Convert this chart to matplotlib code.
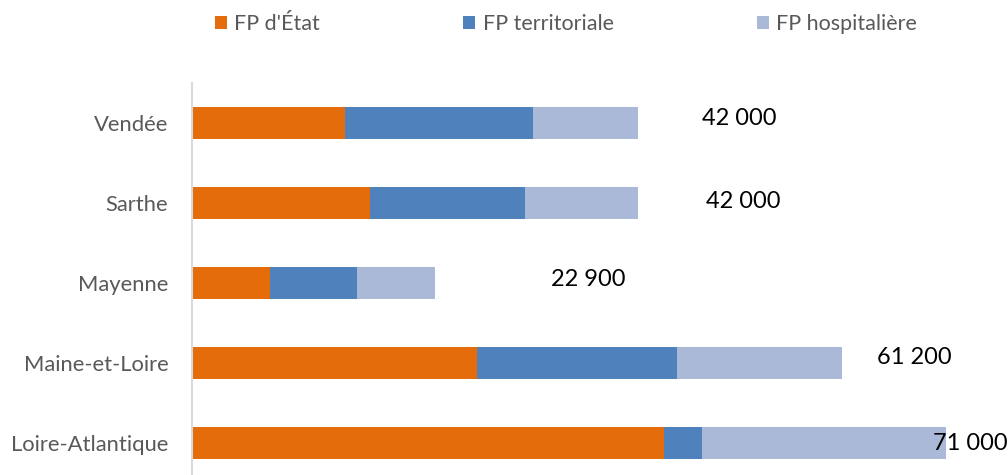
import matplotlib
matplotlib.use('Agg')
import matplotlib.pyplot as plt
import numpy as np

plt.rcParams['font.family'] = ['Lato', 'DejaVu Sans']

# données (de bas en haut)
departements = ['Loire-Atlantique', 'Maine-et-Loire', 'Mayenne', 'Sarthe', 'Vendée']
fp_etat = [44400, 26800, 7350, 16800, 14400]
fp_territoriale = [3600, 18900, 8200, 14600, 17700]
fp_hospitaliere = [23000, 15500, 7350, 10600, 9900]
totaux = ['71 000', '61 200', '22 900', '42 000', '42 000']

couleurs = ['#E46C0A', '#4F81BD', '#AAB9D7']
series = ['FP d\'État', 'FP territoriale', 'FP hospitalière']

# décalage des étiquettes (pixels) par rapport au bout de la barre
decalage_x = [24, 72, 153, 105, 101]
decalage_y = [0, 5, 4, 2, 5]

fig = plt.figure(figsize=(10.08, 4.75), dpi=100)
ax = fig.add_axes([192 / 1008, 0, 816 / 1008, 392 / 475])

y = np.arange(len(departements))
gauche = np.zeros(len(departements))
for vals, c, nom in zip([fp_etat, fp_territoriale, fp_hospitaliere], couleurs, series):
    ax.barh(y, vals, left=gauche, height=0.4, color=c, label=nom)
    gauche += np.array(vals)

for i, t in enumerate(totaux):
    ax.annotate(t, (gauche[i], y[i]), xytext=(decalage_x[i] * 0.72, decalage_y[i] * 0.72),
                textcoords='offset points', ha='center', va='center',
                fontsize=17, color='black')

ax.set_xlim(0, 76840)
ax.set_ylim(-0.4, 4.5)
ax.set_yticks(y)
ax.set_yticklabels(departements, fontsize=15.8, color='#595959')
ax.tick_params(axis='y', length=0, pad=17)
ax.set_xticks([])
for s in ['top', 'right', 'bottom']:
    ax.spines[s].set_visible(False)
ax.spines['left'].set_color('#D9D9D9')
ax.spines['left'].set_linewidth(1.5)

fig.legend(loc='center', bbox_to_anchor=(566 / 1008, 1 - 24 / 475), ncol=3,
           frameon=False, fontsize=15.5, labelcolor='#595959',
           handlelength=0.56, handleheight=0.6, handletextpad=0.33,
           columnspacing=6.65)

fig.savefig('out.png', dpi=100)
